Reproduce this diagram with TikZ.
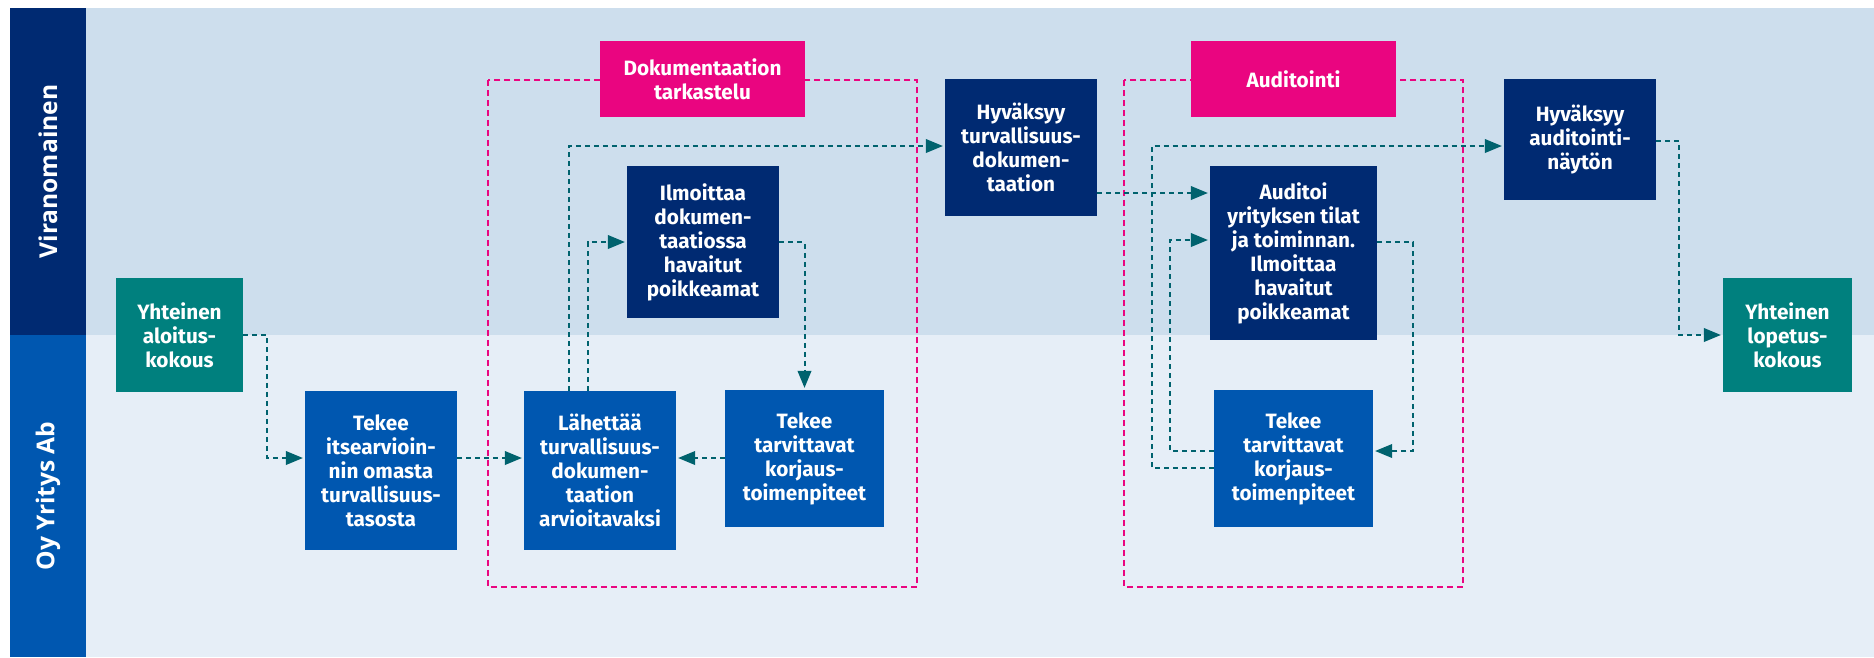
\documentclass[tikz,border=0pt]{standalone}
\usepackage{fontspec}
\setmainfont{Fira Sans}
\newfontfamily\lanefont{Open Sans}
\usetikzlibrary{arrows.meta,calc}
\definecolor{vnavy}{RGB}{0,42,114}
\definecolor{yblue}{RGB}{0,87,176}
\definecolor{kteal}{RGB}{0,128,126}
\definecolor{vpink}{RGB}{234,5,128}
\definecolor{vbg}{RGB}{205,222,237}
\definecolor{ybg}{RGB}{230,238,247}
\definecolor{flow}{RGB}{0,98,110}
\begin{document}
\begin{tikzpicture}[x=0.02cm, y=-0.02cm,
        box/.style={inner sep=0pt, align=center, text=white, font=\bfseries\fontsize{11.8}{13.66}\selectfont},
        vbox/.style={box, fill=vnavy},
        ybox/.style={box, fill=yblue},
        kbox/.style={box, fill=kteal},
        phase/.style={box, fill=vpink},
        frame/.style={draw=vpink, line width=0.04cm, dash pattern=on 0.12cm off 0.08cm},
        flowline/.style={draw=flow, line width=0.04cm, dash pattern=on 0.1cm off 0.08cm, shorten >=1pt, -{Triangle[length=0.34cm, width=0.27cm]}},
        lanelabel/.style={text=white, rotate=90, font=\lanefont\bfseries\fontsize{14}{17}\selectfont}]
        \useasboundingbox (0,0) rectangle (1874,657);
        \fill[vnavy] (10,8) rectangle (86,335);
        \fill[vbg] (86,8) rectangle (1874,335);
        \fill[yblue] (10,335) rectangle (86,657);
        \fill[ybg] (86,335) rectangle (1874,657);
        \node[lanelabel] (vlabel) at (48,171.5) {Viranomainen};
        \node[lanelabel] (ylabel) at (48,496) {Oy Yritys Ab};
        \draw[frame] (488,80) rectangle (917,587);
        \draw[frame] (1124,80) rectangle (1463,587);
        \coordinate (mid) at (0,458);
        \coordinate (r1) at (0,146);
        \node[kbox, minimum width=2.54cm, minimum height=2.28cm] (aloitus) at (179.5,335) {Yhteinen\\aloitus-\\kokous};
        \node[ybox, minimum width=3.04cm, minimum height=3.18cm] (itse) at (381,470.5) {Tekee\\itsearvioin-\\nin omasta\\turvallisuus-\\tasosta};
        \node[ybox, minimum width=3.04cm, minimum height=3.18cm] (lahettaa) at (600,470.5) {Lähettää\\turvallisuus-\\dokumen-\\taation\\arvioitavaksi};
        \node[vbox, minimum width=3.04cm, minimum height=3.04cm] (ilmoittaa) at (703,242) {Ilmoittaa\\dokumen-\\taatiossa\\havaitut\\poikkeamat};
        \node[ybox, minimum width=3.18cm, minimum height=2.74cm] (korjausA) at (804.5,458.5) {Tekee\\tarvittavat\\korjaus-\\toimenpiteet};
        \node[phase, minimum width=4.1cm, minimum height=1.52cm] (doktark) at (702.5,79) {Dokumentaation\\tarkastelu};
        \node[vbox, minimum width=3.04cm, minimum height=2.74cm] (hyvdok) at (1021,147.5) {Hyväksyy\\turvallisuus-\\dokumen-\\taation};
        \node[phase, minimum width=4.1cm, minimum height=1.52cm] (auditointi) at (1293.5,79) {Auditointi};
        \node[vbox, minimum width=3.34cm, minimum height=3.48cm] (auditoi) at (1293.5,253) {Auditoi\\yrityksen tilat\\ja toiminnan.\\Ilmoittaa\\havaitut\\poikkeamat};
        \node[ybox, minimum width=3.18cm, minimum height=2.74cm] (korjausB) at (1293.5,458.5) {Tekee\\tarvittavat\\korjaus-\\toimenpiteet};
        \node[vbox, minimum width=3.04cm, minimum height=2.42cm] (hyvaud) at (1580,139.5) {Hyväksyy\\auditointi-\\näytön};
        \node[kbox, minimum width=2.58cm, minimum height=2.28cm] (lopetus) at (1787.5,335) {Yhteinen\\lopetus-\\kokous};
        \draw[flowline] (aloitus.east) -- ++(24,0) |- (itse.west |- mid);
        \draw[flowline] (itse.east |- mid) -- (lahettaa.west |- mid);
        \draw[flowline] (korjausA.west |- mid) -- (lahettaa.east |- mid);
        \draw[flowline] ($(lahettaa.north west)+(45,0)$) |- (hyvdok.west |- r1);
        \draw[flowline] ($(lahettaa.north west)+(64,0)$) |- (ilmoittaa.west);
        \draw[flowline] (ilmoittaa.east) -| (korjausA.north);
        \draw[flowline] ($(hyvdok.east)+(0,45.5)$) coordinate (g) -- (auditoi.west |- g);
        \draw[flowline] ($(auditoi.east)+(0,-11)$) -- ++(36,0) |- ($(korjausB.east)+(0,-7.5)$);
        \draw[flowline] ($(korjausB.west)+(0,-7.5)$) -- ++(-44,0) |- ($(auditoi.west)+(0,-13)$);
        \draw[flowline] ($(korjausB.west)+(0,9.5)$) -- ++(-62,0) |- (hyvaud.west |- r1);
        \draw[flowline] ($(hyvaud.east)+(0,1.5)$) -- ++(23,0) |- (lopetus.west);
    \end{tikzpicture}
\end{document}
